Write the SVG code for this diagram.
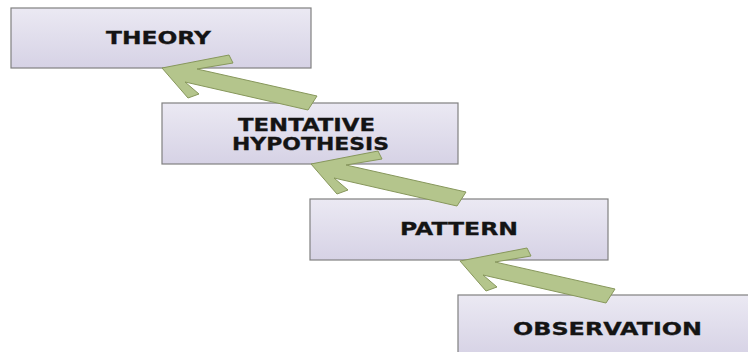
<svg xmlns="http://www.w3.org/2000/svg" xmlns:xlink="http://www.w3.org/1999/xlink" width="748" height="352" viewBox="0 0 748 352">
  <defs>
    <linearGradient id="boxGrad" x1="0" y1="0" x2="0" y2="1">
      <stop offset="0" stop-color="#ebe9f3"/>
      <stop offset="1" stop-color="#d6d2e5"/>
    </linearGradient>
    <polygon id="arrowShape" points="0,0 67,-13 71,-5 35,1 155,28 146,42 23,14 37,26 26,30"/>
  </defs>
  <style>
    .box { fill: url(#boxGrad); stroke: #808080; stroke-width: 1.2; }
    .label { font-family: "DejaVu Sans", "Liberation Sans", sans-serif; font-weight: bold; font-size: 17px; fill: #141414; stroke: #141414; stroke-width: 0.3; text-anchor: start; }
    .arrow { fill: #b4c58c; stroke: #87975c; stroke-width: 1; stroke-linejoin: miter; }
  </style>
  <rect width="748" height="352" fill="#ffffff"/>

  <g id="node-theory">
    <rect class="box" x="11" y="8" width="300" height="60"/>
    <text class="label" x="106" y="43.5" textLength="105" lengthAdjust="spacingAndGlyphs">THEORY</text>
  </g>

  <g id="node-hypothesis">
    <rect class="box" x="162" y="103" width="296" height="61"/>
    <text class="label" x="238" y="131" textLength="137" lengthAdjust="spacingAndGlyphs">TENTATIVE</text>
    <text class="label" x="232" y="149.5" textLength="157" lengthAdjust="spacingAndGlyphs">HYPOTHESIS</text>
  </g>

  <g id="node-pattern">
    <rect class="box" x="310" y="199" width="298" height="61"/>
    <text class="label" x="400" y="235" textLength="118" lengthAdjust="spacingAndGlyphs">PATTERN</text>
  </g>

  <g id="node-observation">
    <rect class="box" x="458" y="295" width="300" height="62"/>
    <text class="label" x="513" y="335" textLength="189" lengthAdjust="spacingAndGlyphs">OBSERVATION</text>
  </g>

  <g id="connectors">
    <use class="arrow" xlink:href="#arrowShape" href="#arrowShape" transform="translate(162,68)"/>
    <use class="arrow" xlink:href="#arrowShape" href="#arrowShape" transform="translate(311,164)"/>
    <use class="arrow" xlink:href="#arrowShape" href="#arrowShape" transform="translate(460,261)"/>
  </g>
</svg>
